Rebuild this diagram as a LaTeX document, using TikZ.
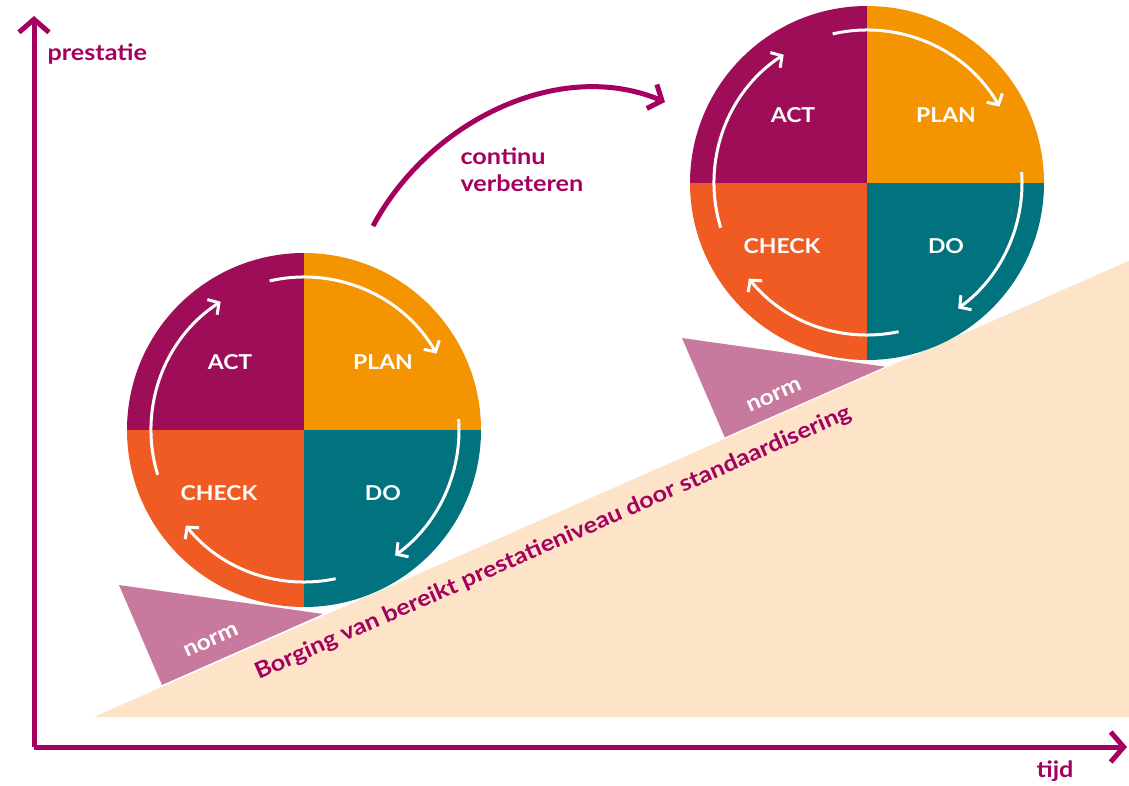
\documentclass[tikz,border=0pt]{standalone}
\usepackage{fontspec}
\setmainfont{Lato}[FakeStretch=1.12]
\usetikzlibrary{arrows.meta}

\definecolor{brandmag}{RGB}{163,0,95}
\definecolor{actcol}{RGB}{158,14,88}
\definecolor{plancol}{RGB}{243,148,0}
\definecolor{docol}{RGB}{0,115,127}
\definecolor{checkcol}{RGB}{240,91,36}
\definecolor{normcol}{RGB}{200,121,158}
\definecolor{slopecol}{RGB}{253,228,201}

\tikzset{
  axisline/.style={draw=brandmag, line width=5pt,
    -{Straight Barb[length=13pt,width=30pt,line cap=butt]}},
  bigcurve/.style={draw=brandmag, line width=5pt,
    -{Straight Barb[length=11pt,width=26pt]}},
  cyclearrow/.style={draw=white, line width=3pt,
    -{Straight Barb[length=8pt,width=18pt]}},
  wheellabel/.style={text=white, font=\fontsize{20.5}{24}\selectfont\bfseries},
  magtext/.style={text=brandmag, font=\fontsize{22.5}{27}\selectfont\bfseries},
  normtext/.style={text=white, font=\fontsize{22}{26}\selectfont\bfseries, rotate=23.8},
}

% PDCA wheel: #1 = centre, #2 = name suffix
\newcommand\pdcawheel[2]{%
  \begin{scope}[shift={#1}, yscale=-1]
    \fill[actcol]   (0,0) -- (90:177)  arc[start angle=90,  end angle=180, radius=177] -- cycle;
    \fill[plancol]  (0,0) -- (0:177)   arc[start angle=0,   end angle=90,  radius=177] -- cycle;
    \fill[checkcol] (0,0) -- (180:177) arc[start angle=180, end angle=270, radius=177] -- cycle;
    \fill[docol]    (0,0) -- (270:177) arc[start angle=270, end angle=360, radius=177] -- cycle;
    \draw[cyclearrow] (103:153) arc[start angle=103, end angle=30,   radius=153];
    \draw[cyclearrow] (4:155)   arc[start angle=4,   end angle=-54,  radius=155];
    \draw[cyclearrow] (-78:152) arc[start angle=-78, end angle=-141, radius=152];
    \draw[cyclearrow] (197:153) arc[start angle=197, end angle=123,  radius=153];
    \node[wheellabel] (act#2)   at (-74,68)  {ACT};
    \node[wheellabel] (plan#2)  at (79,68)   {PLAN};
    \node[wheellabel] (check#2) at (-85,-63) {CHECK};
    \node[wheellabel] (do#2)    at (79,-63)  {DO};
  \end{scope}}

\begin{document}
\begin{tikzpicture}[x=1pt, y=-1pt]
  \useasboundingbox (0,0) rectangle (1129,785);

  % slope
  \coordinate (slopeA) at (92,717);
  \coordinate (slopeB) at (1129,717);
  \coordinate (slopeC) at (1129,260);
  \fill[slopecol] (slopeA) -- (slopeB) -- (slopeC) -- cycle;

  % norm wedges
  \fill[normcol] (119,585) -- (323,614) -- (162,685) -- cycle;
  \fill[normcol] (682,338) -- (887,367) -- (725,438) -- cycle;
  \draw[white, line width=1.2pt] (slopeA) -- (slopeC);

  \node[normtext] (norm1) at (211,641) {norm};
  \node[normtext] (norm2) at (774,396) {norm};

  \node[magtext, rotate=23.8] (borging) at (553,543)
    {Borging van bereikt prestatieniveau door standaardisering};

  % wheels
  \pdcawheel{(304,430)}{A}
  \pdcawheel{(867,183)}{B}

  % axes
  \coordinate (origin) at (34,747);
  \coordinate (ytop) at (34,16);
  \coordinate (xend) at (1127,747);
  \draw[axisline] (origin) -- (ytop);
  \draw[axisline] (origin) -- (xend);
  \node[magtext, anchor=west] (ylab) at (44,54) {prestatie};
  \node[magtext] (xlab) at (1055,771) {tijd};

  % continuous improvement arrow
  \coordinate (cstart) at (373,226);
  \coordinate (cend) at (665,102);
  \draw[bigcurve] (cstart) .. controls (430,120) and (560,58) .. (cend);
  \node[magtext, anchor=west, align=left] (cont) at (457,170)
    {continu\\verbeteren};
\end{tikzpicture}
\end{document}
